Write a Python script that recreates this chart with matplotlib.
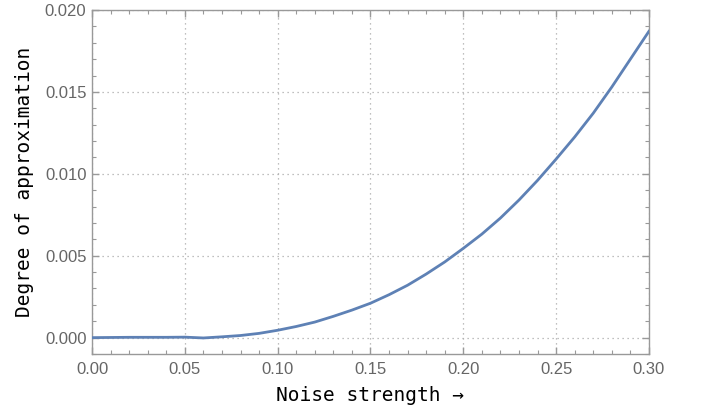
import matplotlib
matplotlib.use("Agg")
import matplotlib.pyplot as plt
from matplotlib.ticker import MultipleLocator, FormatStrFormatter

# Data
noise = [0.00, 0.01, 0.02, 0.03, 0.04, 0.05, 0.06, 0.07, 0.08, 0.09,
         0.10, 0.11, 0.12, 0.13, 0.14, 0.15, 0.16, 0.17, 0.18, 0.19,
         0.20, 0.21, 0.22, 0.23, 0.24, 0.25, 0.26, 0.27, 0.28, 0.29, 0.30]
approx = [0.00000, 0.00001, 0.00002, 0.00002, 0.00002, 0.00003, -0.00002,
          0.00005, 0.00013, 0.00026, 0.00045, 0.00068, 0.00095, 0.00130,
          0.00168, 0.00210, 0.00262, 0.00320, 0.00388, 0.00462, 0.00545,
          0.00632, 0.00730, 0.00840, 0.00960, 0.01090, 0.01225, 0.01370,
          0.01530, 0.01700, 0.01870]

frame_col = "#999999"
tick_col = "#666666"

fig = plt.figure(figsize=(7.05, 4.16), dpi=100)
ax = fig.add_axes([0.1305, 0.149, 0.790, 0.827])

ax.plot(noise, approx, color="#5E81B5", linewidth=2.0, zorder=3)

ax.set_xlim(0, 0.30)
ax.set_ylim(-0.001, 0.020)

ax.xaxis.set_major_locator(MultipleLocator(0.05))
ax.xaxis.set_minor_locator(MultipleLocator(0.01))
ax.yaxis.set_major_locator(MultipleLocator(0.005))
ax.yaxis.set_minor_locator(MultipleLocator(0.001))
ax.xaxis.set_major_formatter(FormatStrFormatter("%.2f"))
ax.yaxis.set_major_formatter(FormatStrFormatter("%.3f"))

ax.grid(True, which="major", linestyle=(0, (1, 3)), color="#aaaaaa",
        linewidth=0.9)

for side in ax.spines.values():
    side.set_color(frame_col)
    side.set_linewidth(1.0)

ax.tick_params(which="both", direction="in", top=True, right=True,
               color=frame_col, labelcolor=tick_col, labelsize=12,
               labelfontfamily="Liberation Sans")
ax.tick_params(which="major", length=5, width=1.0)
ax.tick_params(which="minor", length=3, width=0.8)
ax.tick_params(axis="x", pad=6)
ax.tick_params(axis="y", pad=4)

ax.set_xlabel("Noise strength \u2192", fontsize=14,
              family="DejaVu Sans Mono", labelpad=6)
ax.set_ylabel("Degree of approximation", fontsize=14,
              family="DejaVu Sans Mono", labelpad=8)

fig.savefig("out.png", dpi=100)
